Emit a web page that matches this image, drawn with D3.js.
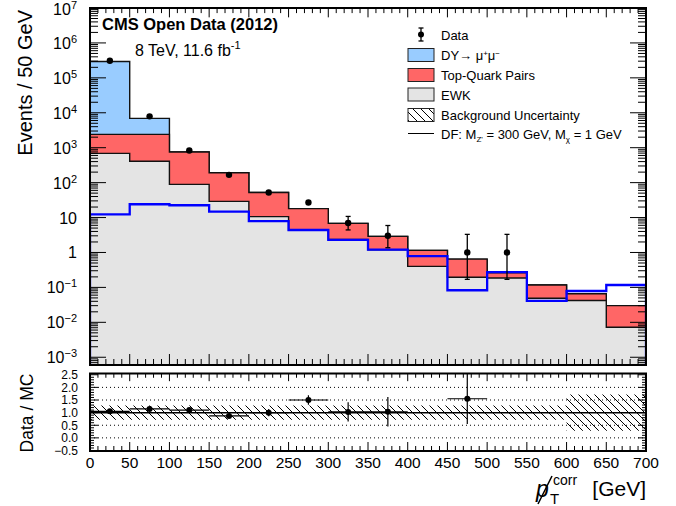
<!DOCTYPE html>
<html>
<head>
<meta charset="utf-8">
<script src="https://cdn.jsdelivr.net/npm/d3@7"></script>
<style>
  body { margin: 0; background: #fff; }
  text { font-family: "Liberation Sans", Arial, sans-serif; fill: #000; }
</style>
</head>
<body>
<div id="vis"></div>
<script>
// bin edges (GeV) of the corrected MET histogram
const binEdges = [0, 50, 100, 150, 200, 250, 300, 350, 400, 450, 500, 550, 600, 650, 700];

// stacked backgrounds (events per bin)
const ewk = [690, 408, 89, 29, 10.6, 4.4, 2.35, 1.2, 0.40, 0.195, 0.186, 0.049, 0.042, 0.0072];
const topPairs = [1710, 1992, 662, 162.5, 41.4, 13.6, 4.45, 1.7, 0.75, 0.45, 0.074, 0.068, 0.024, 0.0228];
const dy = [292600, 4500, 4, 0.5, 0, 0, 0, 0, 0, 0, 0, 0, 0, 0];

// signal: DF, M_Z' = 300 GeV, M_chi = 1 GeV
const signal = [12.4, 24, 22.5, 14.8, 7.9, 4.4, 2.3, 1.2, 0.79, 0.083, 0.275, 0.041, 0.079, 0.117];

// data and its (asymmetric) errors
const dataVals = [310000, 7900, 830, 167, 52, 27, 7, 3, 0, 1, 1, 0, 0, 0];
const dataErrLo = [557, 89, 28.8, 12.9, 7.2, 5.17, 2.58, 1.63, 0, 0.83, 0.83, 0, 0, 0];
const dataErrHi = [557, 89, 29.8, 13.95, 8.3, 6.26, 3.77, 2.92, 0, 2.30, 2.30, 0, 0, 0];

// ratio panel: errors on data/MC and relative background uncertainty
const ratioErr = [0.002, 0.011, 0.035, 0.077, 0.139, 0.19, 0.38, 0.58, 0, 1.0, 1.0, 0, 0, 0];
const bkgUnc = [0.28, 0.28, 0.28, 0.28, 0.28, 0.28, 0.28, 0.28, 0.28, 0.28, 0.28, 0.28, 0.72, 0.72];

// tick values
const logTicks = [1e7, 1e6, 1e5, 1e4, 1e3, 1e2, 10, 1, 1e-1, 1e-2, 1e-3];
const ratioTicks = [-0.5, 0.0, 0.5, 1.0, 1.5, 2.0, 2.5];
const ratioGrid = [0.0, 0.5, 1.5, 2.0];
const xTicks = [0, 50, 100, 150, 200, 250, 300, 350, 400, 450, 500, 550, 600, 650, 700];

const W = 676, H = 506;
const main = {left: 90, right: 646, top: 8, bottom: 365};
const rat = {left: 90, right: 646, top: 373.5, bottom: 451};

const svg = d3.select('#vis').append('svg')
    .attr('width', W).attr('height', H);

const defs = svg.append('defs');
const hatch = defs.append('pattern')
    .attr('id', 'hatch').attr('patternUnits', 'userSpaceOnUse')
    .attr('width', 8).attr('height', 8);
hatch.append('path')
    .attr('d', 'M0,0 L8,8 M-2,6 L2,10 M6,-2 L10,2')
    .attr('stroke', '#000').attr('stroke-width', 1);

defs.append('clipPath').attr('id', 'clipMain').append('rect')
    .attr('x', main.left).attr('y', main.top)
    .attr('width', main.right - main.left).attr('height', main.bottom - main.top);
defs.append('clipPath').attr('id', 'clipRat').append('rect')
    .attr('x', rat.left).attr('y', rat.top)
    .attr('width', rat.right - rat.left).attr('height', rat.bottom - rat.top);

// scales
const x = d3.scaleLinear().domain([0, 700]).range([main.left, main.right]);
const y = d3.scaleLog().domain([6e-4, 1e7]).range([main.bottom, main.top]).clamp(true);
const yR = d3.scaleLinear().domain([-0.52, 2.55]).range([rat.bottom, rat.top]);

const nb = binEdges.length - 1;
const lvlEwk = ewk.slice();
const lvlTop = ewk.map((v, i) => v + topPairs[i]);
const lvlAll = lvlTop.map((v, i) => v + dy[i]);

// closed step outline of a histogram
function stepPts(vals, sy) {
  const pts = [[x(binEdges[0]), sy.range()[0]]];
  vals.forEach((v, i) => {
    pts.push([x(binEdges[i]), sy(v)]);
    pts.push([x(binEdges[i + 1]), sy(v)]);
  });
  pts.push([x(binEdges[nb]), sy.range()[0]]);
  return pts;
}
const line = d3.line();

const gMain = svg.append('g').attr('clip-path', 'url(#clipMain)');

// stacked fills: total (DY on top), then top pairs, then EWK
[[lvlAll, '#99ccff'], [lvlTop, '#ff6666'], [lvlEwk, '#e4e4e4']].forEach(([vals, col]) => {
  gMain.append('path')
    .attr('d', line(stepPts(vals, y)) + 'Z')
    .attr('fill', col)
    .attr('stroke', '#111')
    .attr('stroke-width', 1.4);
});

// signal line
gMain.append('path')
  .attr('d', line(stepPts(signal, y)))
  .attr('fill', 'none')
  .attr('stroke', '#0000ff')
  .attr('stroke-width', 2.3);

// data points
const dataIdx = d3.range(nb).filter(i => dataVals[i] > 0);
const centers = binEdges.slice(0, nb).map((e, i) => (e + binEdges[i + 1]) / 2);
const gData = gMain.append('g');
dataIdx.forEach(i => {
  const cx = x(centers[i]);
  const y1 = y(dataVals[i] + dataErrHi[i]);
  const y0 = y(Math.max(dataVals[i] - dataErrLo[i], 1e-9));
  if (Math.abs(y0 - y1) > 7) {
    gData.append('line').attr('x1', cx).attr('x2', cx).attr('y1', y1).attr('y2', y0)
      .attr('stroke', '#000').attr('stroke-width', 1.3);
    [y0, y1].forEach(yy => gData.append('line')
      .attr('x1', cx - 2.5).attr('x2', cx + 2.5).attr('y1', yy).attr('y2', yy)
      .attr('stroke', '#000').attr('stroke-width', 1.3));
  }
  gData.append('circle').attr('cx', cx).attr('cy', y(dataVals[i])).attr('r', 3.2).attr('fill', '#000');
});

// ---------- main panel frame and ticks ----------
function frame(p) {
  svg.append('rect')
    .attr('x', p.left).attr('y', p.top)
    .attr('width', p.right - p.left).attr('height', p.bottom - p.top)
    .attr('fill', 'none').attr('stroke', '#000').attr('stroke-width', 2);
}

function xTickMarks(p, majLen, minLen) {
  const g = svg.append('g').attr('stroke', '#000').attr('stroke-width', 1);
  d3.range(0, 701, 10).forEach(v => {
    const len = v % 50 === 0 ? majLen : minLen;
    const xx = x(v);
    g.append('line').attr('x1', xx).attr('x2', xx).attr('y1', p.bottom).attr('y2', p.bottom - len);
    g.append('line').attr('x1', xx).attr('x2', xx).attr('y1', p.top).attr('y2', p.top + len * 0.85);
  });
}

// log y ticks (both sides)
const gy = svg.append('g').attr('stroke', '#000').attr('stroke-width', 1);
for (let e = -4; e <= 6; e++) {
  for (let m = 1; m <= 9; m++) {
    const v = m * Math.pow(10, e);
    if (v < 6e-4 || v > 1e7) continue;
    const yy = y(v);
    const len = m === 1 ? 16 : 8;
    gy.append('line').attr('x1', main.left).attr('x2', main.left + len).attr('y1', yy).attr('y2', yy);
    gy.append('line').attr('x1', main.right).attr('x2', main.right - len).attr('y1', yy).attr('y2', yy);
  }
}
xTickMarks(main, 11, 6);
frame(main);

// y labels with superscripts
logTicks.forEach(v => {
  const ex = Math.round(Math.log10(v));
  const t = svg.append('text')
    .attr('x', 77).attr('y', y(v) + (ex === 7 ? 7 : 6))
    .attr('text-anchor', 'end')
    .style('font-size', '16px');
  if (ex === 0) { t.text('1'); }
  else if (ex === 1) { t.text('10'); }
  else {
    t.append('tspan').text('10');
    t.append('tspan').attr('dy', -6).style('font-size', '11px')
      .text(ex < 0 ? '\u2212' + (-ex) : String(ex));
  }
});

svg.append('text')
  .attr('transform', 'rotate(-90)')
  .attr('x', -10).attr('y', 32)
  .attr('text-anchor', 'end')
  .style('font-size', '20px')
  .text('Events / 50 GeV');

// header texts
svg.append('text')
  .attr('x', 102).attr('y', 30)
  .style('font-size', '16.5px').style('font-weight', 'bold')
  .text('CMS Open Data (2012)');
const lumi = svg.append('text').attr('x', 135).attr('y', 56).style('font-size', '16px');
lumi.append('tspan').text('8 TeV, 11.6 fb');
lumi.append('tspan').attr('dy', -7).style('font-size', '11px').text('-1');

// ---------- legend ----------
const lgX = 408, lgT = 441;
const lg = svg.append('g');
// data entry
lg.append('line').attr('x1', 421).attr('x2', 421).attr('y1', 28).attr('y2', 41).attr('stroke', '#000').attr('stroke-width', 1.3);
[28, 41].forEach(yy => lg.append('line').attr('x1', 418.5).attr('x2', 423.5).attr('y1', yy).attr('y2', yy).attr('stroke', '#000').attr('stroke-width', 1.3));
lg.append('circle').attr('cx', 421).attr('cy', 34.5).attr('r', 3).attr('fill', '#000');
lg.append('text').attr('x', lgT).attr('y', 39.5).style('font-size', '13px').text('Data');

const boxes = [
  {y: 48.5, fill: '#99ccff'},
  {y: 68.5, fill: '#ff6666'},
  {y: 88, fill: '#e4e4e4'},
  {y: 108.5, fill: 'url(#hatch)'}
];
boxes.forEach(b => lg.append('rect')
  .attr('x', lgX).attr('y', b.y).attr('width', 26).attr('height', 13)
  .attr('fill', b.fill).attr('stroke', '#222').attr('stroke-width', 1));

const tDY = lg.append('text').attr('x', lgT).attr('y', 59.5).style('font-size', '13px');
tDY.append('tspan').text('DY\u2192 \u03bc');
tDY.append('tspan').attr('dy', -4).style('font-size', '8px').text('+');
tDY.append('tspan').attr('dy', 4).text('\u03bc');
tDY.append('tspan').attr('dy', -4).style('font-size', '8px').text('\u2212');
lg.append('text').attr('x', lgT).attr('y', 80).style('font-size', '13px').text('Top-Quark Pairs');
lg.append('text').attr('x', lgT).attr('y', 99.5).style('font-size', '13px').text('EWK');
lg.append('text').attr('x', lgT).attr('y', 119.5).style('font-size', '13px').text('Background Uncertainty');
lg.append('line').attr('x1', lgX).attr('x2', lgX + 26).attr('y1', 133.5).attr('y2', 133.5).attr('stroke', '#000').attr('stroke-width', 1);
const tDF = lg.append('text').attr('x', lgT).attr('y', 139).style('font-size', '13px');
tDF.append('tspan').text('DF: M');
tDF.append('tspan').attr('dy', 3).style('font-size', '8px').text("Z'");
tDF.append('tspan').attr('dy', -3).text(' = 300 GeV, M');
tDF.append('tspan').attr('dy', 3).style('font-size', '8px').text('\u03c7');
tDF.append('tspan').attr('dy', -3).text(' = 1 GeV');

// ---------- ratio panel ----------
const gRat = svg.append('g').attr('clip-path', 'url(#clipRat)');

ratioGrid.forEach(v => gRat.append('line')
  .attr('x1', rat.left).attr('x2', rat.right).attr('y1', yR(v)).attr('y2', yR(v))
  .attr('stroke', '#000').attr('stroke-width', 1).attr('stroke-dasharray', '1,3'));

// hatched uncertainty band
const bandPts = [];
bkgUnc.forEach((u, i) => {
  bandPts.push({x: binEdges[i], u});
  bandPts.push({x: binEdges[i + 1], u});
});
gRat.append('path')
  .attr('d', d3.area().x(d => x(d.x)).y0(d => yR(1 - d.u)).y1(d => yR(1 + d.u))(bandPts))
  .attr('fill', 'url(#hatch)').attr('stroke', 'none');

gRat.append('line')
  .attr('x1', rat.left).attr('x2', rat.right).attr('y1', yR(1)).attr('y2', yR(1))
  .attr('stroke', '#000').attr('stroke-width', 1.5);

dataIdx.forEach(i => {
  const r = dataVals[i] / lvlAll[i];
  const cx = x(centers[i]);
  const cy = yR(r);
  gRat.append('line').attr('x1', x(binEdges[i])).attr('x2', x(binEdges[i + 1])).attr('y1', cy).attr('y2', cy)
    .attr('stroke', '#000').attr('stroke-width', 1.2);
  gRat.append('line').attr('x1', cx).attr('x2', cx).attr('y1', yR(r + ratioErr[i])).attr('y2', yR(r - ratioErr[i]))
    .attr('stroke', '#000').attr('stroke-width', 1.2);
  gRat.append('circle').attr('cx', cx).attr('cy', cy).attr('r', 3).attr('fill', '#000');
});

// ratio y ticks
const gry = svg.append('g').attr('stroke', '#000').attr('stroke-width', 1);
d3.range(-5, 26).forEach(k => {
  const v = k / 10;
  const len = k % 5 === 0 ? 8 : 4;
  gry.append('line').attr('x1', rat.left).attr('x2', rat.left + len).attr('y1', yR(v)).attr('y2', yR(v));
  gry.append('line').attr('x1', rat.right).attr('x2', rat.right - len).attr('y1', yR(v)).attr('y2', yR(v));
});
xTickMarks(rat, 9, 5);
frame(rat);

ratioTicks.forEach(v => svg.append('text')
  .attr('x', 78).attr('y', yR(v) + 4.3)
  .attr('text-anchor', 'end')
  .style('font-size', '12px')
  .text(d3.format('.1f')(v).replace('-', '\u2212')));

svg.append('text')
  .attr('transform', 'rotate(-90)')
  .attr('x', -413).attr('y', 33)
  .attr('text-anchor', 'middle')
  .style('font-size', '17.5px')
  .text('Data / MC');

// x labels
xTicks.forEach(v => svg.append('text')
  .attr('x', x(v)).attr('y', 468)
  .attr('text-anchor', 'middle')
  .style('font-size', '15.5px')
  .text(v));

// x title: slashed p_T^corr [GeV]
svg.append('text').attr('x', 646).attr('y', 496).attr('text-anchor', 'end')
  .style('font-size', '21px').text('[GeV]');
svg.append('text').attr('x', 536).attr('y', 497)
  .style('font-size', '23px').style('font-style', 'italic').text('p');
svg.append('line').attr('x1', 538).attr('x2', 552).attr('y1', 504).attr('y2', 476)
  .attr('stroke', '#000').attr('stroke-width', 1.6);
svg.append('text').attr('x', 553).attr('y', 485)
  .style('font-size', '14px').text('corr');
svg.append('text').attr('x', 550).attr('y', 504)
  .style('font-size', '15px').text('T');
</script>
</body>
</html>
